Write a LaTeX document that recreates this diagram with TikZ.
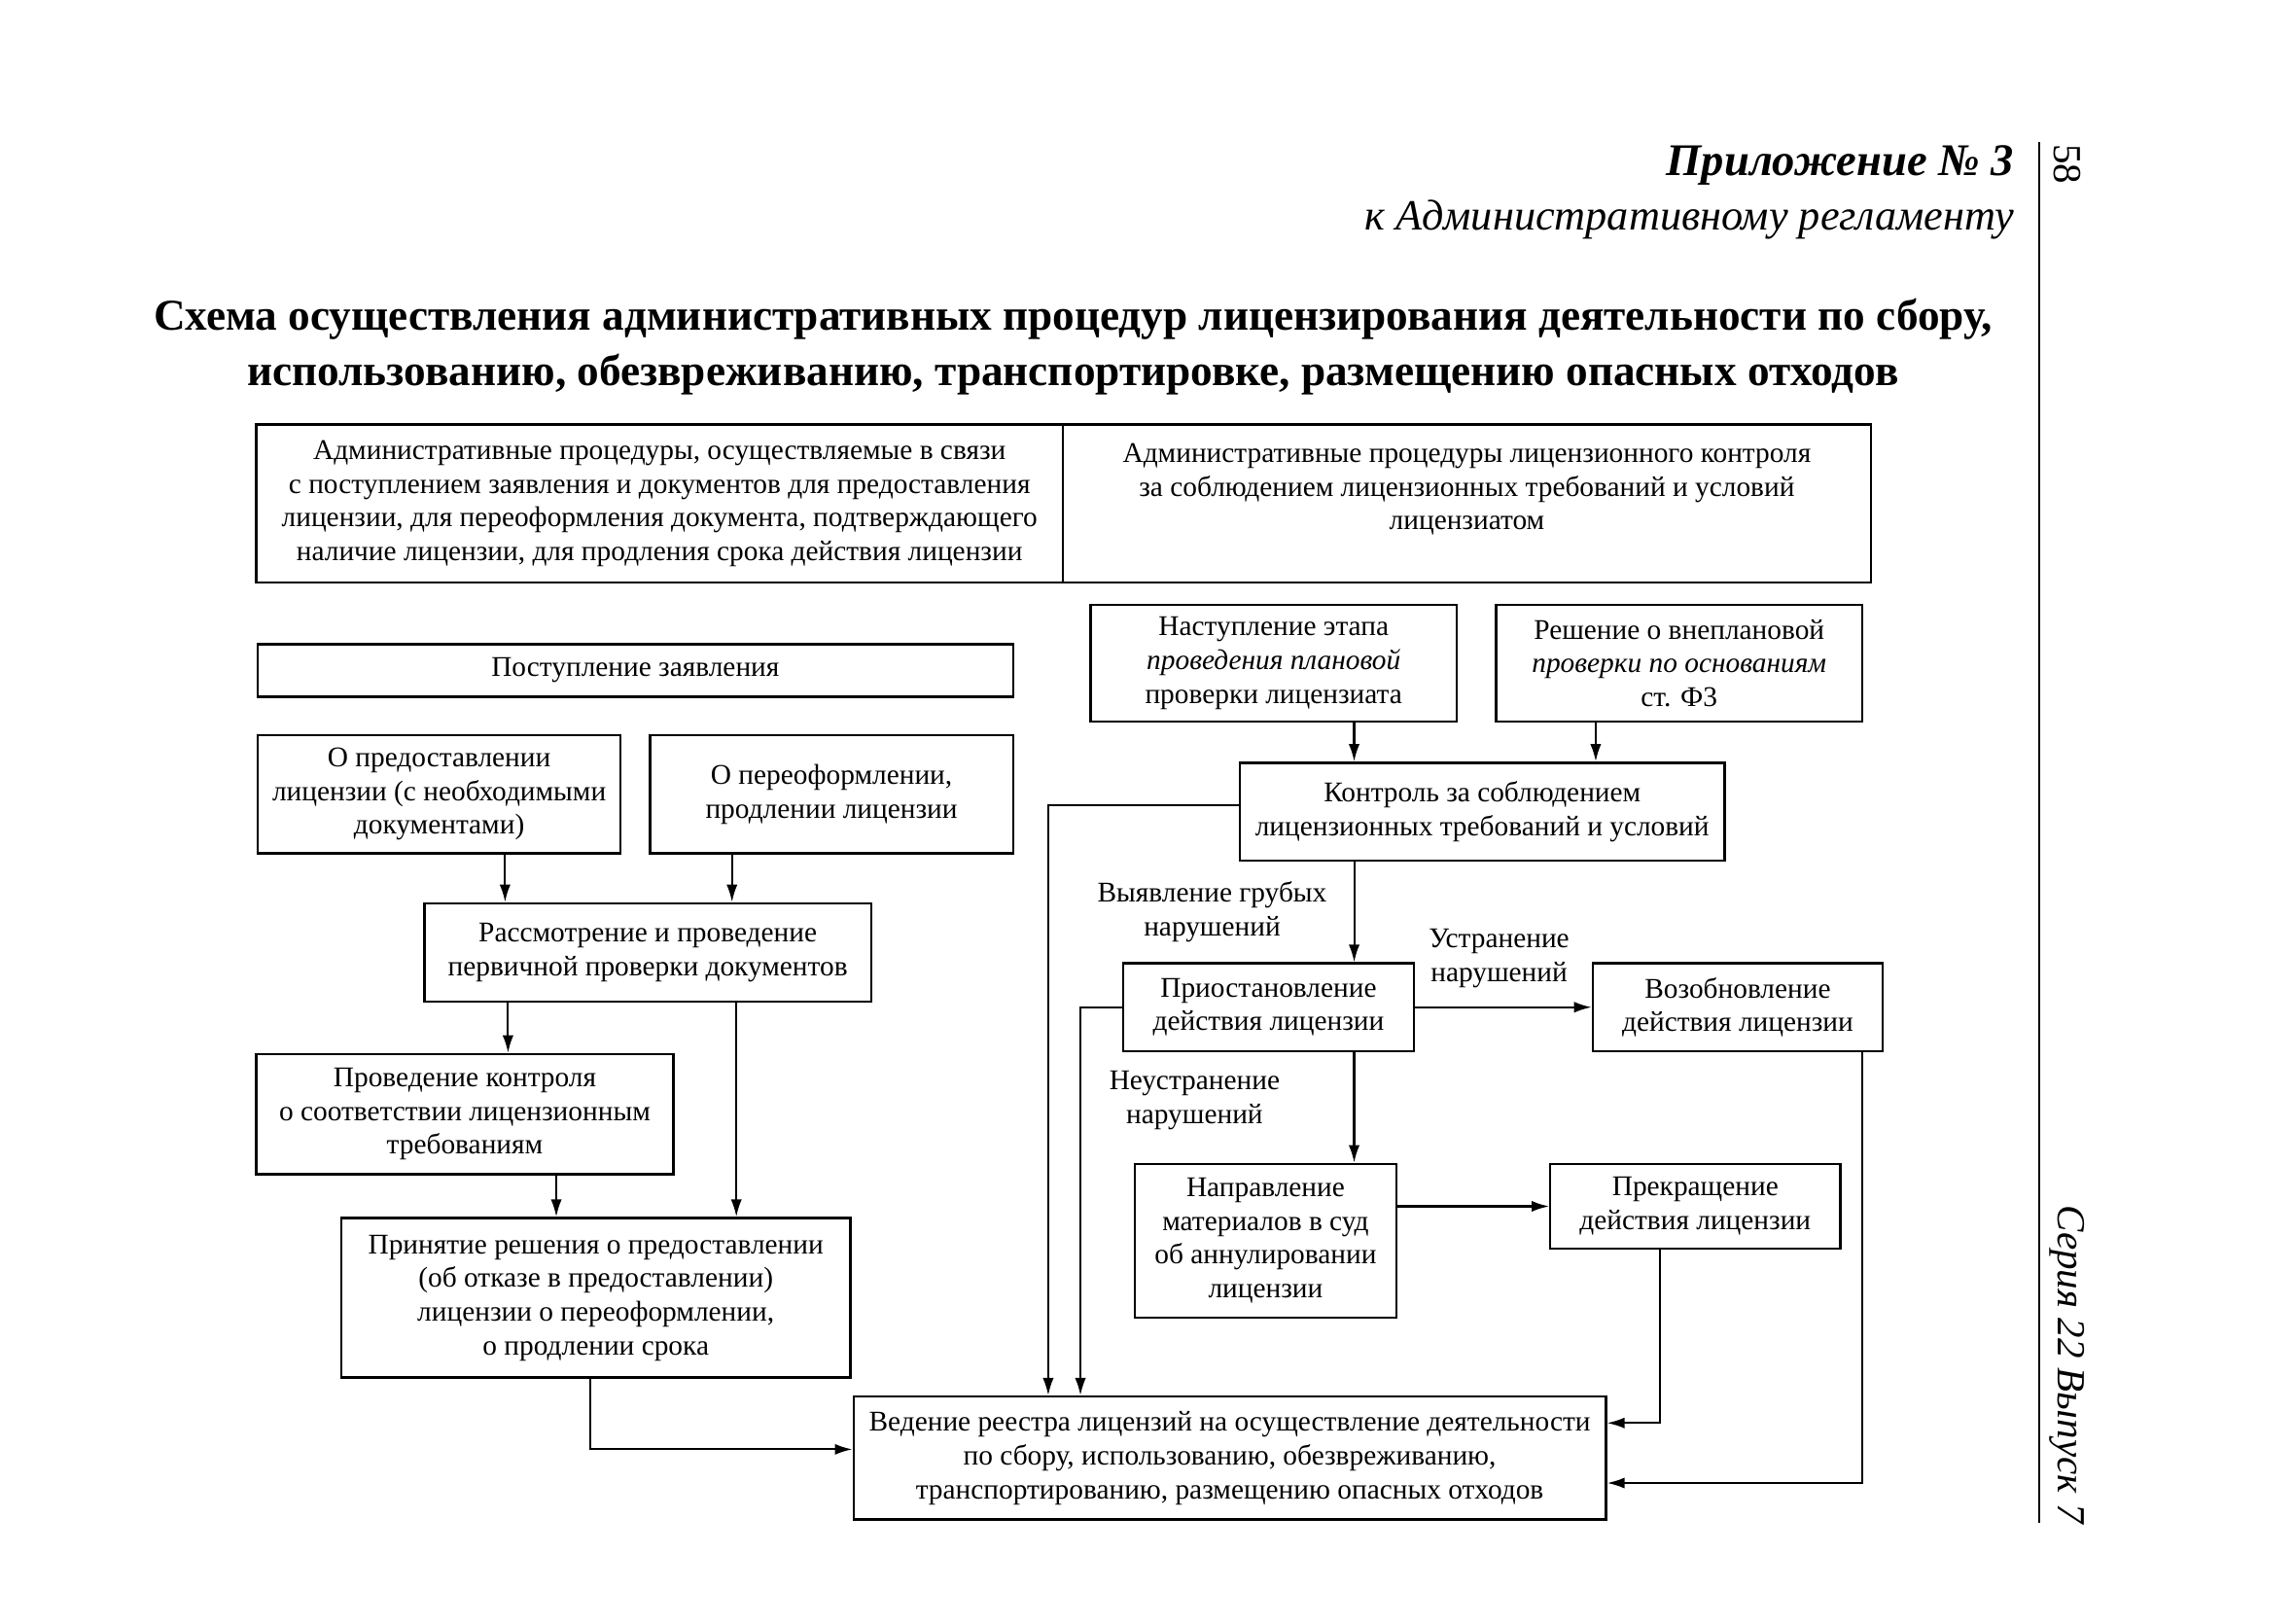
\documentclass[tikz,border=0pt]{standalone}
\usepackage{fontspec}
\setmainfont{Liberation Serif}
\usetikzlibrary{arrows.meta}

\tikzset{
  blk/.style={draw, line width=0.9pt, align=center, inner sep=0pt, font=\fontsize{11.1}{13.1}\selectfont},
  lbl/.style={align=center, inner sep=0pt, font=\fontsize{11.1}{13.1}\selectfont},
  arr/.style={line width=0.8pt, -{Latex[length=2.4mm,width=1.5mm]}},
  ln/.style={line width=0.8pt}
}

\begin{document}
\begin{tikzpicture}[x=0.02cm, y=-0.02cm]
        \useasboundingbox (0,0) rectangle (1567,1108.7);

        % Header
        \node[anchor=east, inner sep=0pt, font=\fontsize{17.6}{22}\selectfont\bfseries\itshape] (app) at (1376,113) {Приложение № 3};
        \node[anchor=east, inner sep=0pt, font=\fontsize{16.75}{22}\selectfont\itshape] (reg) at (1376,150) {к Административному регламенту};
        \node[align=center, inner sep=0pt, font=\fontsize{17.1}{21.6}\selectfont\bfseries] (title) at (733,237)
            {Схема осуществления административных процедур лицензирования деятельности по сбору,\\
             использованию, обезвреживанию, транспортировке, размещению опасных отходов};

        % Page margin
        \coordinate (rtop) at (1393,97);
        \coordinate (rbot) at (1393,1040);
        \draw[line width=0.9pt] (rtop) -- (rbot);
        \node[rotate=-90, inner sep=0pt, font=\fontsize{15.5}{18}\selectfont] (page) at (1412,112) {58};
        \node[rotate=-90, inner sep=0pt, font=\fontsize{15.5}{18}\selectfont\itshape] (ser) at (1412,932) {Серия 22 Выпуск 7};

        % Top row
        \node[blk, minimum width=11.02cm, minimum height=2.16cm] (admL) at (450.5,344)
            {Административные процедуры, осуществляемые в связи\\
             с поступлением заявления и документов для предоставления\\
             лицензии, для переоформления документа, подтверждающего\\
             наличие лицензии, для продления срока действия лицензии};
        \node[blk, minimum width=11.04cm, minimum height=2.16cm] (admR) at (1002,344)
            {Административные процедуры лицензионного контроля\\
             за соблюдением лицензионных требований и условий\\
             лицензиатом\\ \mbox{}};

        % Left branch
        \node[blk, minimum width=10.32cm, minimum height=0.72cm] (post) at (434,458) {Поступление заявления};
        \node[blk, minimum width=4.96cm, minimum height=1.62cm] (pred) at (300,542.5)
            {О предоставлении\\ лицензии (с необходимыми\\ документами)};
        \node[blk, minimum width=4.96cm, minimum height=1.62cm] (pere) at (568,542.5)
            {О переоформлении,\\ продлении лицензии};
        \node[blk, minimum width=6.1cm, minimum height=1.34cm] (rass) at (442.5,650.5)
            {Рассмотрение и проведение\\ первичной проверки документов};
        \node[blk, minimum width=5.7cm, minimum height=1.64cm] (prov) at (317.5,761)
            {Проведение контроля\\ о соответствии лицензионным\\ требованиям};
        \node[blk, minimum width=6.96cm, minimum height=2.18cm] (prin) at (407,886.5)
            {Принятие решения о предоставлении\\ (об отказе в предоставлении)\\ лицензии о переоформлении,\\ о продлении срока};

        % Register
        \node[blk, minimum width=10.28cm, minimum height=1.68cm] (reestr) at (840,996)
            {Ведение реестра лицензий на осуществление деятельности\\
             по сбору, использованию, обезвреживанию,\\
             транспортированию, размещению опасных отходов};

        % Right branch
        \node[blk, minimum width=5cm, minimum height=1.6cm] (nast) at (870,453)
            {Наступление этапа\\ \textit{проведения плановой}\\ проверки лицензиата};
        \node[blk, minimum width=5cm, minimum height=1.6cm] (resh) at (1147,453)
            {Решение о внеплановой\\ \textit{проверки по основаниям}\\ ст. Ф3};
        \node[blk, minimum width=6.62cm, minimum height=1.34cm] (kontr) at (1012.5,554.5)
            {Контроль за соблюдением\\ лицензионных требований и условий};
        \node[blk, minimum width=3.98cm, minimum height=1.2cm] (prios) at (866.5,688)
            {Приостановление\\ действия лицензии};
        \node[blk, minimum width=3.96cm, minimum height=1.2cm] (vozob) at (1187,688)
            {Возобновление\\ действия лицензии};
        \node[blk, minimum width=3.58cm, minimum height=2.1cm] (napr) at (864.5,847.5)
            {Направление\\ материалов в суд\\ об аннулировании\\ лицензии};
        \node[blk, minimum width=3.96cm, minimum height=1.16cm] (prekr) at (1158,824)
            {Прекращение\\ действия лицензии};

        % Labels
        \node[lbl] (grub) at (828,623) {Выявление грубых\\ нарушений};
        \node[lbl] (ustr) at (1024,654.5) {Устранение\\ нарушений};
        \node[lbl] (neustr) at (816,751.5) {Неустранение\\ нарушений};

        % Connections, left
        \draw[arr] ([xshift=0.9cm]pred.south) -- ([xshift=0.9cm]pred.south |- rass.north);
        \draw[arr] ([xshift=-1.36cm]pere.south) -- ([xshift=-1.36cm]pere.south |- rass.north);
        \draw[arr] ([xshift=-1.91cm]rass.south) -- ([xshift=-1.91cm]rass.south |- prov.north);
        \draw[arr] ([xshift=1.21cm]rass.south) -- ([xshift=1.21cm]rass.south |- prin.north);
        \draw[arr] ([xshift=1.25cm]prov.south) -- ([xshift=1.25cm]prov.south |- prin.north);
        \draw[arr] ([xshift=-0.08cm]prin.south) |- ([yshift=0.12cm]reestr.west);

        % Connections, right
        \draw[arr] ([xshift=1.1cm]nast.south) -- ([xshift=1.1cm]nast.south |- kontr.north);
        \draw[arr] ([xshift=-1.14cm]resh.south) -- ([xshift=-1.14cm]resh.south |- kontr.north);
        \draw[arr] ([yshift=0.09cm]kontr.west) -| ([xshift=-2.48cm]reestr.north);
        \draw[arr] ([xshift=-1.75cm]kontr.south) -- ([xshift=-1.75cm]kontr.south |- prios.north);
        \draw[arr] (prios.east) -- (vozob.west);
        \draw[arr] (prios.west) -| ([xshift=-2.04cm]reestr.north);
        \draw[arr] ([xshift=1.17cm]prios.south) -- ([xshift=1.17cm]prios.south |- napr.north);
        \draw[arr] (prekr.west -| napr.east) -- (prekr.west);
        \draw[arr] ([xshift=-0.48cm]prekr.south) |- ([yshift=0.48cm]reestr.east);
        \draw[arr] ([xshift=1.7cm]vozob.south) |- ([yshift=-0.34cm]reestr.east);
    \end{tikzpicture}
\end{document}
